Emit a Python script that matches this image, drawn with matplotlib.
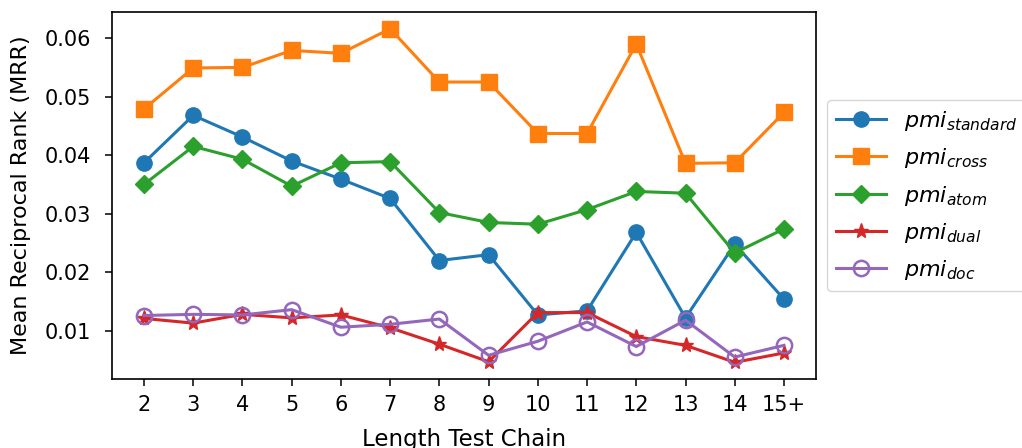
import matplotlib
matplotlib.use('Agg')
import matplotlib.pyplot as plt

# chain lengths on the x axis
chain_labels = ['2', '3', '4', '5', '6', '7', '8', '9', '10', '11', '12', '13', '14', '15+']

# MRR per method
mrr_standard = [0.0387, 0.0468, 0.0431, 0.0390, 0.0359, 0.0326, 0.0220, 0.0230, 0.0127, 0.0134, 0.0268, 0.0122, 0.0248, 0.0154]
mrr_cross = [0.0479, 0.0549, 0.0550, 0.0579, 0.0574, 0.0616, 0.0525, 0.0525, 0.0437, 0.0437, 0.0590, 0.0386, 0.0387, 0.0473]
mrr_atom = [0.0350, 0.0415, 0.0393, 0.0347, 0.0387, 0.0389, 0.0302, 0.0285, 0.0282, 0.0307, 0.0338, 0.0335, 0.0233, 0.0274]
mrr_dual = [0.0121, 0.0113, 0.0128, 0.0122, 0.0127, 0.0105, 0.0077, 0.0047, 0.0131, 0.0131, 0.0090, 0.0075, 0.0046, 0.0062]
mrr_doc = [0.0126, 0.0128, 0.0127, 0.0136, 0.0106, 0.0111, 0.0120, 0.0058, 0.0082, 0.0115, 0.0073, 0.0118, 0.0055, 0.0075]

plt.rcParams['font.size'] = 15
plt.rcParams['axes.linewidth'] = 1.2
plt.rcParams['xtick.major.size'] = 4.8
plt.rcParams['ytick.major.size'] = 4.8
plt.rcParams['xtick.major.width'] = 1.1
plt.rcParams['ytick.major.width'] = 1.1
plt.rcParams['xtick.major.pad'] = 6.5
plt.rcParams['ytick.major.pad'] = 10

fig = plt.figure(figsize=(10.22, 4.48), dpi=100)
ax = fig.add_axes([0.1096, 0.154, 0.6888, 0.819])

x = list(range(len(chain_labels)))
lw = 2.2
ax.plot(x, mrr_standard, 'o-', color='tab:blue', lw=lw, ms=11, label=r'$pmi_{standard}$')
ax.plot(x, mrr_cross, 's-', color='tab:orange', lw=lw, ms=11, label=r'$pmi_{cross}$')
ax.plot(x, mrr_atom, 'D-', color='tab:green', lw=lw, ms=9.5, label=r'$pmi_{atom}$')
ax.plot(x, mrr_dual, '*-', color='tab:red', lw=lw, ms=11, label=r'$pmi_{dual}$')
ax.plot(x, mrr_doc, 'o-', color='tab:purple', lw=lw, ms=11, mfc='none', mew=1.8, label=r'$pmi_{doc}$')

ax.set_xticks(x)
ax.set_xticklabels(chain_labels)
ax.set_yticks([0.01, 0.02, 0.03, 0.04, 0.05, 0.06])
ax.set_xlabel('Length Test Chain', fontsize=16.5, labelpad=9.5)
ax.set_ylabel('Mean Reciprocal Rank (MRR)', fontsize=16, labelpad=10)

ax.legend(loc='center left', bbox_to_anchor=(1.0, 0.5), fontsize=16, handlelength=2.25, labelspacing=0.6)

fig.savefig('out.png', dpi=100)
